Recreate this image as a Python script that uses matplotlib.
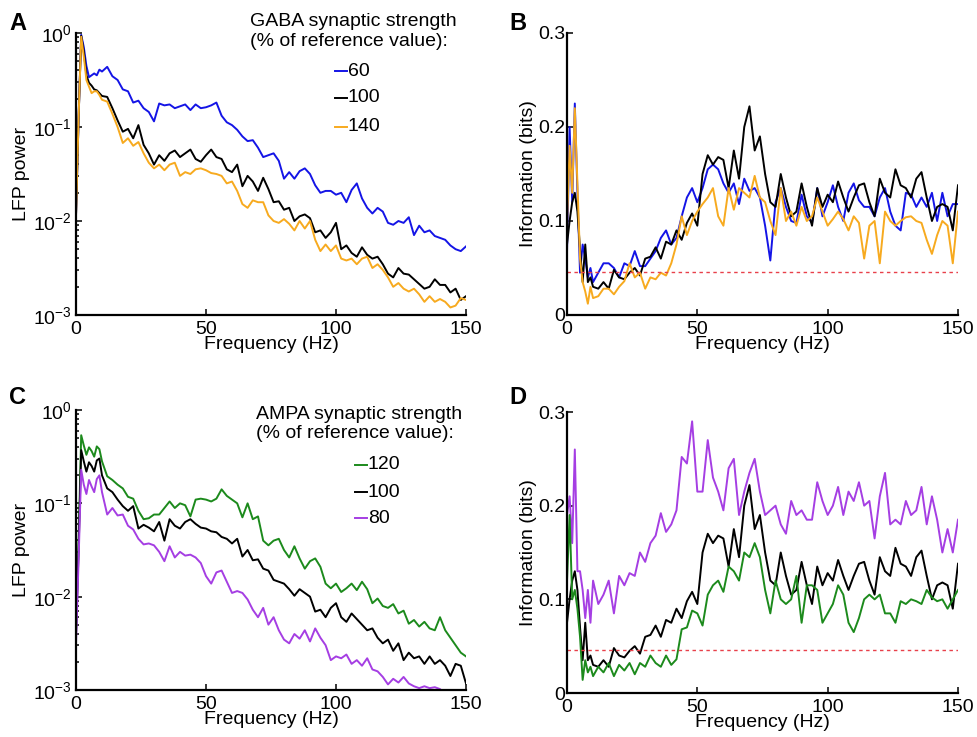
"""LFP power spectra and information vs frequency for GABA / AMPA synaptic strength changes."""

import numpy as np
import matplotlib.pyplot as plt

plt.rcParams['font.family'] = ['Liberation Sans', 'DejaVu Sans']

# frequency grid (Hz): 1 Hz steps up to 9 Hz, then 2 Hz steps
FREQ = list(range(0, 10)) + list(range(10, 151, 2))

# ---- panel A: log10 LFP power, GABA strength 60 / 100 / 140 % ----
A_GABA60_LOG = [
    -1.94, -0.90, -0.02, -0.15, -0.35, -0.47, -0.45, -0.43, -0.45, -0.39,
    -0.41, -0.36, -0.46, -0.50, -0.60, -0.62, -0.74, -0.72, -0.80, -0.84, -0.94, -0.75, -0.77, -0.76, -0.80, -0.78,
    -0.76, -0.82, -0.76, -0.80, -0.79, -0.77, -0.74, -0.88, -0.95, -0.98, -1.03, -1.10, -1.15, -1.14, -1.22, -1.32, -1.30,
    -1.28, -1.36, -1.55, -1.48, -1.55, -1.47, -1.44, -1.50, -1.62, -1.70, -1.68, -1.68, -1.72, -1.70, -1.80, -1.67,
    -1.60, -1.76, -1.86, -1.92, -1.86, -1.90, -2.02, -2.04, -2.00, -2.02, -1.96, -2.15, -2.05, -2.12, -2.10, -2.16,
    -2.18, -2.20, -2.26, -2.30, -2.32, -2.27]
A_GABA100_LOG = [
    -1.94, -0.90, -0.03, -0.20, -0.45, -0.53, -0.56, -0.60, -0.61, -0.64,
    -0.67, -0.68, -0.80, -0.93, -1.05, -1.02, -1.12, -0.98, -1.19, -1.28, -1.40, -1.30, -1.36, -1.28, -1.25, -1.32,
    -1.28, -1.24, -1.34, -1.37, -1.30, -1.24, -1.32, -1.34, -1.45, -1.48, -1.40, -1.63, -1.52, -1.58, -1.68, -1.54, -1.66,
    -1.80, -1.79, -1.88, -1.86, -2.00, -1.95, -1.93, -1.97, -2.12, -2.10, -2.18, -2.12, -2.02, -2.30, -2.26, -2.34,
    -2.38, -2.28, -2.36, -2.40, -2.38, -2.46, -2.56, -2.60, -2.50, -2.56, -2.57, -2.62, -2.67, -2.72, -2.70, -2.62,
    -2.68, -2.68, -2.76, -2.72, -2.84, -2.80]
A_GABA140_LOG = [
    -1.94, -0.90, -0.04, -0.25, -0.50, -0.57, -0.64, -0.62, -0.62, -0.66,
    -0.71, -0.73, -0.86, -1.00, -1.17, -1.12, -1.20, -1.16, -1.28, -1.38, -1.44, -1.40, -1.46, -1.40, -1.38, -1.52,
    -1.48, -1.50, -1.45, -1.44, -1.46, -1.49, -1.50, -1.52, -1.60, -1.58, -1.68, -1.82, -1.86, -1.78, -1.80, -1.80, -1.94,
    -2.00, -2.02, -1.98, -2.03, -2.10, -2.00, -2.08, -2.00, -2.20, -2.32, -2.25, -2.32, -2.26, -2.40, -2.42, -2.40,
    -2.46, -2.40, -2.38, -2.50, -2.46, -2.52, -2.60, -2.70, -2.66, -2.72, -2.75, -2.72, -2.78, -2.86, -2.80, -2.86,
    -2.83, -2.86, -2.92, -2.90, -2.82, -2.84]

# ---- panel C: log10 LFP power, AMPA strength 120 / 100 / 80 % ----
C_AMPA120_LOG = [
    -2.40, -1.40, -0.27, -0.38, -0.48, -0.40, -0.44, -0.50, -0.39, -0.42,
    -0.55, -0.71, -0.75, -0.80, -0.84, -0.93, -0.95, -1.08, -1.17, -1.16, -1.12, -1.12, -1.05, -0.98, -1.05, -1.00,
    -1.02, -1.14, -0.96, -0.95, -0.96, -0.98, -0.95, -0.85, -0.92, -0.96, -1.00, -1.15, -1.00, -1.17, -1.14, -1.40, -1.45,
    -1.40, -1.38, -1.50, -1.58, -1.46, -1.59, -1.70, -1.62, -1.59, -1.68, -1.86, -1.91, -1.86, -1.95, -1.91, -1.86,
    -1.93, -1.84, -1.92, -2.07, -2.02, -2.10, -2.12, -2.08, -2.18, -2.15, -2.29, -2.25, -2.32, -2.27, -2.34, -2.36,
    -2.22, -2.36, -2.44, -2.52, -2.60, -2.64]
C_AMPA100_LOG = [
    -2.40, -1.50, -0.43, -0.55, -0.66, -0.56, -0.60, -0.66, -0.54, -0.52,
    -0.70, -0.84, -0.88, -0.96, -1.03, -1.08, -1.03, -1.27, -1.23, -1.26, -1.30, -1.20, -1.40, -1.17, -1.24, -1.27,
    -1.20, -1.17, -1.22, -1.26, -1.27, -1.30, -1.31, -1.36, -1.38, -1.43, -1.38, -1.57, -1.50, -1.61, -1.60, -1.70, -1.72,
    -1.82, -1.84, -1.86, -1.92, -1.99, -1.92, -1.96, -2.00, -2.16, -2.14, -2.22, -2.12, -2.07, -2.22, -2.27, -2.18,
    -2.24, -2.30, -2.36, -2.34, -2.44, -2.50, -2.46, -2.58, -2.50, -2.68, -2.60, -2.66, -2.64, -2.72, -2.64, -2.72,
    -2.68, -2.74, -2.85, -2.72, -2.74, -2.93]
C_AMPA80_LOG = [
    -2.50, -1.60, -0.64, -0.80, -0.90, -0.75, -0.82, -0.88, -0.74, -0.70,
    -0.88, -1.12, -1.05, -1.13, -1.12, -1.24, -1.28, -1.38, -1.44, -1.43, -1.45, -1.52, -1.62, -1.46, -1.58, -1.52,
    -1.56, -1.55, -1.58, -1.64, -1.78, -1.86, -1.74, -1.72, -1.84, -1.96, -1.94, -1.96, -2.03, -2.14, -2.22, -2.12, -2.30,
    -2.22, -2.36, -2.46, -2.50, -2.40, -2.45, -2.36, -2.48, -2.34, -2.44, -2.52, -2.68, -2.64, -2.66, -2.62, -2.72,
    -2.68, -2.74, -2.66, -2.78, -2.80, -2.86, -2.94, -2.88, -2.92, -2.86, -2.93, -2.96, -2.98, -2.96, -2.98, -2.97,
    -2.99, -3.05, -3.10, -3.14, -3.18, -3.20]

# ---- panel B: information (bits), GABA strength 60 / 100 / 140 % ----
B_GABA60 = [
    0.067, 0.200, 0.120, 0.225, 0.130, 0.045, 0.075, 0.060, 0.040, 0.050,
    0.035, 0.045, 0.055, 0.055, 0.050, 0.040, 0.055, 0.052, 0.068, 0.052, 0.052, 0.060, 0.068, 0.082, 0.090, 0.075,
    0.082, 0.105, 0.125, 0.135, 0.120, 0.135, 0.155, 0.160, 0.155, 0.140, 0.130, 0.140, 0.118, 0.145, 0.132, 0.135, 0.125,
    0.095, 0.058, 0.120, 0.135, 0.115, 0.100, 0.098, 0.128, 0.105, 0.098, 0.135, 0.105, 0.120, 0.138, 0.115, 0.100,
    0.130, 0.140, 0.122, 0.115, 0.115, 0.105, 0.125, 0.135, 0.110, 0.095, 0.090, 0.130, 0.128, 0.115, 0.125, 0.115,
    0.130, 0.100, 0.130, 0.105, 0.118, 0.118]
INFO_REF100 = [
    0.075, 0.100, 0.120, 0.130, 0.110, 0.070, 0.035, 0.075, 0.035, 0.040,
    0.030, 0.028, 0.035, 0.028, 0.048, 0.040, 0.038, 0.045, 0.050, 0.042, 0.060, 0.062, 0.072, 0.060, 0.078, 0.075,
    0.090, 0.080, 0.098, 0.108, 0.095, 0.150, 0.170, 0.160, 0.168, 0.165, 0.135, 0.175, 0.145, 0.200, 0.222, 0.175, 0.190,
    0.150, 0.120, 0.115, 0.150, 0.125, 0.105, 0.110, 0.140, 0.115, 0.095, 0.135, 0.115, 0.128, 0.120, 0.142, 0.125,
    0.110, 0.125, 0.138, 0.140, 0.120, 0.105, 0.145, 0.130, 0.125, 0.155, 0.138, 0.135, 0.125, 0.145, 0.152, 0.125,
    0.100, 0.115, 0.118, 0.115, 0.090, 0.138]
B_GABA140 = [
    0.095, 0.180, 0.130, 0.220, 0.140, 0.060, 0.035, 0.025, 0.012, 0.030,
    0.018, 0.020, 0.028, 0.028, 0.022, 0.030, 0.036, 0.055, 0.040, 0.045, 0.028, 0.040, 0.038, 0.045, 0.042, 0.055,
    0.075, 0.105, 0.085, 0.100, 0.110, 0.118, 0.125, 0.135, 0.105, 0.095, 0.135, 0.112, 0.135, 0.130, 0.125, 0.148, 0.125,
    0.120, 0.100, 0.085, 0.135, 0.100, 0.110, 0.095, 0.115, 0.100, 0.105, 0.125, 0.110, 0.095, 0.102, 0.110, 0.102,
    0.090, 0.105, 0.098, 0.060, 0.095, 0.100, 0.055, 0.110, 0.100, 0.095, 0.100, 0.104, 0.105, 0.100, 0.098, 0.080,
    0.065, 0.085, 0.100, 0.095, 0.055, 0.110]

# ---- panel D: information (bits), AMPA strength 80 / 120 % (100 % is the same reference run) ----
D_AMPA80 = [
    0.190, 0.210, 0.160, 0.260, 0.130, 0.130, 0.110, 0.080, 0.110, 0.075,
    0.120, 0.095, 0.105, 0.120, 0.085, 0.125, 0.115, 0.128, 0.125, 0.150, 0.140, 0.160, 0.168, 0.192, 0.172, 0.180,
    0.195, 0.252, 0.245, 0.290, 0.215, 0.215, 0.270, 0.230, 0.215, 0.195, 0.240, 0.250, 0.190, 0.215, 0.235, 0.250, 0.215,
    0.190, 0.195, 0.200, 0.180, 0.170, 0.205, 0.190, 0.195, 0.185, 0.185, 0.225, 0.205, 0.190, 0.200, 0.220, 0.190,
    0.215, 0.205, 0.225, 0.200, 0.205, 0.165, 0.210, 0.235, 0.180, 0.185, 0.180, 0.205, 0.190, 0.195, 0.220, 0.180,
    0.210, 0.185, 0.150, 0.175, 0.150, 0.185]
D_AMPA120 = [
    0.120, 0.190, 0.100, 0.110, 0.090, 0.060, 0.014, 0.035, 0.022, 0.028,
    0.018, 0.028, 0.022, 0.032, 0.018, 0.030, 0.024, 0.032, 0.020, 0.032, 0.028, 0.040, 0.032, 0.028, 0.040, 0.030,
    0.036, 0.068, 0.070, 0.088, 0.085, 0.072, 0.105, 0.115, 0.120, 0.108, 0.135, 0.130, 0.120, 0.150, 0.145, 0.160, 0.145,
    0.110, 0.085, 0.120, 0.100, 0.095, 0.100, 0.125, 0.075, 0.115, 0.115, 0.110, 0.075, 0.085, 0.095, 0.115, 0.105,
    0.075, 0.065, 0.080, 0.100, 0.105, 0.100, 0.105, 0.085, 0.085, 0.075, 0.098, 0.095, 0.100, 0.098, 0.095, 0.110,
    0.102, 0.098, 0.100, 0.090, 0.100, 0.110]

SIG_LEVEL = 0.046  # significance threshold (bits)

BLUE = "#1414e6"
ORANGE = "#f7aa1f"
GREEN = "#1c8a1c"
PURPLE = "#a53ee3"
RED = "#e8404a"
FS = 14
LW = 1.4

freq = np.array(FREQ)

fig = plt.figure(figsize=(9.77, 7.37), dpi=100)
W, H = 977.0, 737.0
axA = fig.add_axes([76 / W, 1 - 315 / H, 390 / W, 282 / H])
axB = fig.add_axes([567 / W, 1 - 315 / H, 391 / W, 282 / H])
axC = fig.add_axes([76 / W, 1 - 690 / H, 390 / W, 280 / H])
axD = fig.add_axes([567 / W, 1 - 693 / H, 391 / W, 281 / H])


def style(ax):
    for s in ["top", "right"]:
        ax.spines[s].set_visible(False)
    for s in ["left", "bottom"]:
        ax.spines[s].set_linewidth(1.6)
    ax.tick_params(which="both", direction="in", labelsize=FS, width=1.1)
    ax.tick_params(which="major", length=4, pad=3)
    ax.tick_params(which="minor", length=2.5)
    ax.tick_params(axis="x", pad=4)
    ax.set_xlim(0, 150)
    ax.set_xticks([0, 50, 100, 150])
    ax.set_xlabel("Frequency (Hz)", fontsize=FS, labelpad=-1)


# A / C : LFP power spectra (log scale)
for ax, series in [
    (axA, [(A_GABA60_LOG, BLUE), (A_GABA100_LOG, "k"), (A_GABA140_LOG, ORANGE)]),
    (axC, [(C_AMPA120_LOG, GREEN), (C_AMPA100_LOG, "k"), (C_AMPA80_LOG, PURPLE)]),
]:
    for vals, col in series:
        ax.plot(freq, np.power(10.0, vals), color=col, lw=LW)
    ax.set_yscale("log")
    ax.set_ylim(1e-3, 1)
    ax.set_yticks([1e-3, 1e-2, 1e-1, 1])
    ax.set_ylabel("LFP power", fontsize=FS, labelpad=2)
    style(ax)

# B / D : information
for ax, series in [
    (axB, [(B_GABA60, BLUE), (INFO_REF100, "k"), (B_GABA140, ORANGE)]),
    (axD, [(D_AMPA80, PURPLE), (INFO_REF100, "k"), (D_AMPA120, GREEN)]),
]:
    for vals, col in series:
        ax.plot(freq, vals, color=col, lw=LW)
    ax.axhline(SIG_LEVEL, color=RED, lw=1.0, ls=(0, (2.5, 2.5)))
    ax.set_ylim(0, 0.3)
    ax.set_yticks([0, 0.1, 0.2, 0.3])
    ax.set_yticklabels(["0", "0.1", "0.2", "0.3"])
    ax.set_ylabel("Information (bits)", fontsize=FS, labelpad=1)
    style(ax)
    ax.tick_params(axis="y", pad=1)


def key(ax, title, x0, ty, entries, ey, hx):
    ax.text(x0, ty, title, transform=ax.transAxes, fontsize=FS,
            ha="left", va="center", linespacing=1.2)
    for (lab, col), y in zip(entries, ey):
        ax.plot([hx, hx + 0.03], [y, y], color=col, lw=LW,
                transform=ax.transAxes, clip_on=False)
        ax.text(hx + 0.033, y, lab, transform=ax.transAxes,
                fontsize=FS, ha="left", va="center")


key(axA, "GABA synaptic strength\n(% of reference value):", 0.446, 1.005,
    [("60", BLUE), ("100", "k"), ("140", ORANGE)], [0.865, 0.770, 0.667], 0.664)
key(axC, "AMPA synaptic strength\n(% of reference value):", 0.462, 0.950,
    [("120", GREEN), ("100", "k"), ("80", PURPLE)], [0.804, 0.707, 0.614], 0.715)

for lab, x, y in [("A", 9, 12), ("B", 509, 12), ("C", 9, 386), ("D", 509, 386)]:
    fig.text(x / W, 1 - y / H, lab, fontsize=17, fontweight="bold", va="top", ha="left")

fig.savefig("out.png", dpi=100)
